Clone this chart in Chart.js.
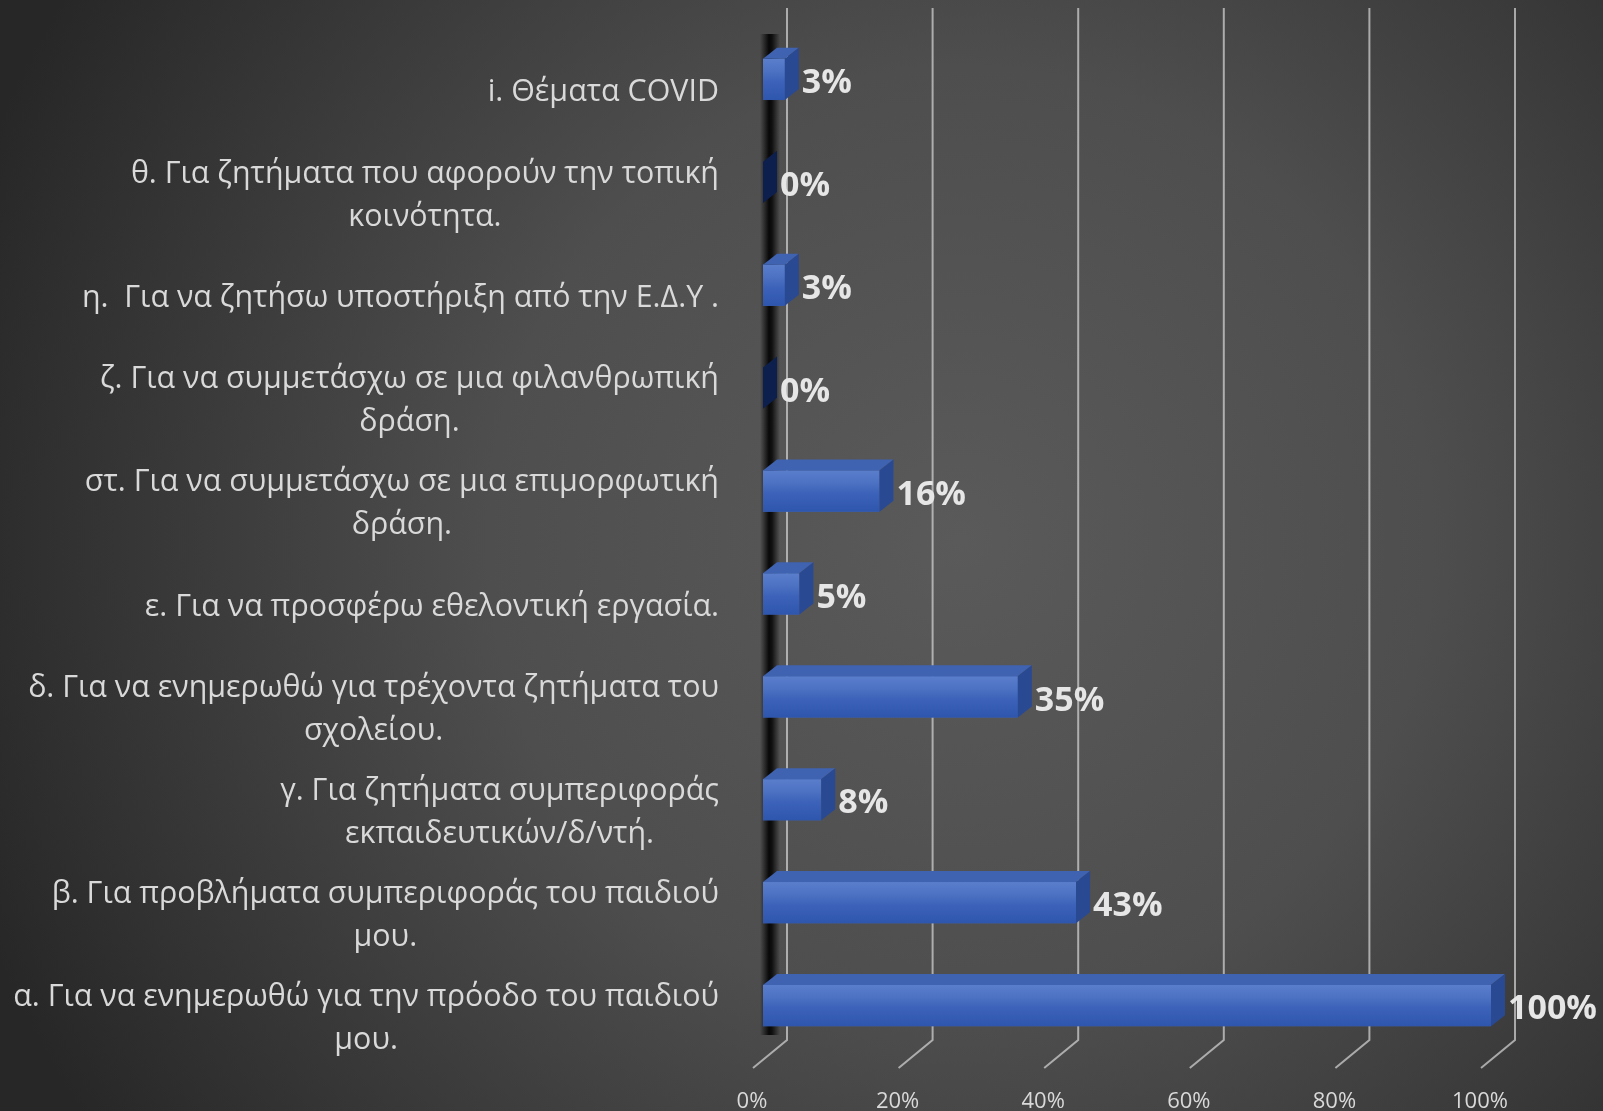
<!DOCTYPE html>
<html>
<head>
<meta charset="utf-8">
<script src="https://cdn.jsdelivr.net/npm/chart.js@4.4.0/dist/chart.umd.min.js"></script>
<style>
  html, body { margin: 0; padding: 0; background: #2b2b2b; }
  #chart { display: block; }
</style>
</head>
<body>
<canvas id="chart" width="1603" height="1111"></canvas>
<script>
// bottom to top, as in the picture
const categories = [
  ['α. Για να ενημερωθώ για την πρόοδο του παιδιού', 'μου.'],
  ['β. Για προβλήματα συμπεριφοράς του παιδιού', 'μου.'],
  ['γ. Για ζητήματα συμπεριφοράς', 'εκπαιδευτικών/δ/ντή.'],
  ['δ. Για να ενημερωθώ για τρέχοντα ζητήματα του', 'σχολείου.'],
  ['ε. Για να προσφέρω εθελοντική εργασία.'],
  ['στ. Για να συμμετάσχω σε μια επιμορφωτική', 'δράση.'],
  ['ζ. Για να συμμετάσχω σε μια φιλανθρωπική', 'δράση.'],
  ['η.  Για να ζητήσω υποστήριξη από την Ε.Δ.Υ .'],
  ['θ. Για ζητήματα που αφορούν την τοπική', 'κοινότητα.'],
  ['i. Θέματα COVID']
];
const percentages = [100, 43, 8, 35, 5, 16, 0, 3, 0, 3];
const xTicks = [0, 20, 40, 60, 80, 100];

const TEXT = '#d9d9d9';
const DX = 14, DY = 11;       // bar depth
const WALL = 24;              // back wall offset

const ctx = document.getElementById('chart').getContext('2d');

const scenePlugin = {
  id: 'scene',
  beforeDraw(chart) {
    const c = chart.ctx;
    const g = c.createRadialGradient(960, 540, 0, 960, 540, 1050);
    g.addColorStop(0, '#5a5a5a');
    g.addColorStop(0.45, '#4e4e4e');
    g.addColorStop(1, '#272727');
    c.save();
    c.fillStyle = g;
    c.fillRect(0, 0, chart.width, chart.height);
    c.restore();
  },
  beforeDatasetsDraw(chart) {
    const c = chart.ctx;
    const x = chart.scales.x;
    const area = chart.chartArea;
    c.save();
    // grid on back wall + floor edges
    c.strokeStyle = 'rgba(205,205,205,0.75)';
    c.lineWidth = 2;
    xTicks.forEach(v => {
      const px = x.getPixelForValue(v);
      c.beginPath();
      c.moveTo(px + WALL, 8);
      c.lineTo(px + WALL, area.bottom - 17);
      c.lineTo(px - 10, area.bottom + 11);
      c.stroke();
    });
    // dark left wall edge, soft strip
    const wx = area.left - 3;
    const wg = c.createLinearGradient(wx, 0, wx + 20, 0);
    wg.addColorStop(0, 'rgba(0,0,0,0)');
    wg.addColorStop(0.45, 'rgba(0,0,0,0.9)');
    wg.addColorStop(0.6, 'rgba(0,0,0,0.8)');
    wg.addColorStop(1, 'rgba(0,0,0,0)');
    c.fillStyle = wg;
    c.fillRect(wx, area.top + 6, 20, area.bottom - area.top - 28);
    c.restore();
  },
  afterDatasetsDraw(chart) {
    const c = chart.ctx;
    const meta = chart.getDatasetMeta(0);
    c.save();
    meta.data.forEach((bar, i) => {
      const top = bar.y - bar.height / 2;
      const bottom = bar.y + bar.height / 2;
      const left = bar.base, right = bar.x;
      const zero = percentages[i] === 0;
      if (!zero) {
        const fg = c.createLinearGradient(0, top, 0, bottom);
        fg.addColorStop(0, '#5a7ecb');
        fg.addColorStop(0.3, '#4d72c3');
        fg.addColorStop(0.55, '#3c63b9');
        fg.addColorStop(1, '#2f56ad');
        c.fillStyle = fg;
        c.fillRect(left, top, right - left, bottom - top);
        // top face
        c.fillStyle = '#3f62b1';
        c.beginPath();
        c.moveTo(left, top);
        c.lineTo(right, top);
        c.lineTo(right + DX, top - DY);
        c.lineTo(left + DX, top - DY);
        c.closePath();
        c.fill();
      }
      // end face
      c.fillStyle = zero ? '#0d1f4c' : '#2a4993';
      c.beginPath();
      c.moveTo(right, top);
      c.lineTo(right + DX, top - DY);
      c.lineTo(right + DX, bottom - DY);
      c.lineTo(right, bottom);
      c.closePath();
      c.fill();
      // value label
      c.fillStyle = '#e6e6e6';
      c.font = 'bold 34px "Open Sans"';
      c.textAlign = 'left';
      c.textBaseline = 'middle';
      c.fillText(percentages[i] + '%', right + DX + 3, bar.y + 4);
    });
    c.restore();
  },
  afterDraw(chart) {
    const c = chart.ctx;
    const y = chart.scales.y;
    const rightEdge = chart.chartArea.left - 44;
    const lineH = 43;
    c.save();
    c.fillStyle = TEXT;
    c.font = '30.4px "Open Sans"';
    c.textAlign = 'center';
    c.textBaseline = 'middle';
    categories.forEach((lines, i) => {
      const cy = y.getPixelForValue(i) + 13;
      const widest = Math.max(...lines.map(s => c.measureText(s).width));
      const cx = rightEdge - widest / 2;
      const y0 = cy - (lines.length - 1) * lineH / 2;
      lines.forEach((s, k) => c.fillText(s, cx, y0 + k * lineH));
    });
    c.restore();
  }
};

new Chart(ctx, {
  type: 'bar',
  data: {
    labels: categories,
    datasets: [{
      data: percentages,
      backgroundColor: '#3c63b9',
      borderWidth: 0,
      barPercentage: 0.4,
      categoryPercentage: 1
    }]
  },
  options: {
    indexAxis: 'y',
    responsive: false,
    animation: false,
    layout: { padding: { left: 763, right: 112, top: 28, bottom: 0 } },
    plugins: { legend: { display: false }, tooltip: { enabled: false } },
    scales: {
      y: { type: 'category', reverse: true, display: false },
      x: {
        min: 0,
        max: 100,
        afterBuildTicks: s => { s.ticks = xTicks.map(v => ({ value: v })); },
        afterFit: s => { s.height = 54; },
        grid: { display: false, drawTicks: false },
        border: { display: false },
        ticks: {
          callback: v => v + '%',
          color: TEXT,
          font: { family: 'Open Sans', size: 22 },
          padding: 32,
          labelOffset: -11,
          maxRotation: 0
        }
      }
    }
  },
  plugins: [scenePlugin]
});
</script>
</body>
</html>
